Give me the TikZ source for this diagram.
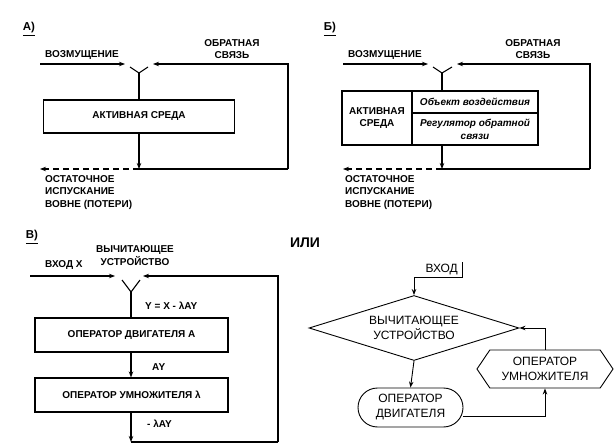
\documentclass[tikz,border=0pt]{standalone}
\usepackage{fontspec}
\setmainfont{Liberation Sans}
\usetikzlibrary{positioning,arrows.meta,shapes.geometric,shapes.misc,shapes.symbols}

\tikzset{
	blk/.style={draw,line width=1.1pt,inner sep=0pt,font=\fontsize{10}{12}\selectfont\bfseries},
	lbl/.style={inner sep=0pt,font=\fontsize{10}{12.5}\selectfont\bfseries},
	ttl/.style={inner sep=0pt,font=\fontsize{11.5}{13}\selectfont\bfseries},
	ln/.style={line width=1.1pt},
	arr/.style={line width=1.1pt,-{Stealth[length=6pt,width=4.5pt]}},
	dsh/.style={dash pattern=on 6pt off 4pt},
	fl/.style={draw,line width=0.9pt,inner sep=0pt,align=center,font=\fontsize{12}{15}\selectfont},
	farr/.style={line width=0.9pt,-{Stealth[length=6pt,width=4.5pt]}}
}

\begin{document}
\begin{tikzpicture}[x=1pt,y=-1pt]
		\useasboundingbox (0,0) rectangle (614,444);

		\node[ttl]							(ta)	at (29,29)		{\underline{А)}};
		\node[blk,minimum width=191pt,minimum height=33pt]	(sa)	at (139,116.5)	{АКТИВНАЯ СРЕДА};
		\node[lbl,anchor=west]					(va)	at (45,55)		{ВОЗМУЩЕНИЕ};
		\node[lbl,align=center]					(oba)	at (232,49)		{ОБРАТНАЯ\\СВЯЗЬ};
		\node[lbl,align=left,anchor=north west]	(pa)	at (45,175)		{ОСТАТОЧНОЕ\\ИСПУСКАНИЕ\\ВОВНЕ (ПОТЕРИ)};
		\coordinate (ja)	at (139,73);
		\coordinate (jal)	at (130,67);
		\coordinate (jar)	at (148,67);
		\coordinate (ia)	at (40,64);
		\coordinate (iae)	at (125,64);
		\coordinate (fa)	at (288,169);
		\coordinate (fae)	at (153,64);
		\coordinate (oa)	at (139,169);
		\coordinate (la)	at (40,169);

		\draw[ln]			(jal) -- (ja) -- (jar);
		\draw[ln]			(ja) -- (sa.north);
		\draw[arr]			(ia) -- (iae);
		\draw[arr]			(fa) |- (fae);
		\draw[ln]			(fa) -- (oa);
		\draw[arr]			(sa.south) -- (oa);
		\draw[arr,dsh]		(oa) -- (la);

		\node[ttl]							(tb)	at (330,29)		{\underline{Б)}};
		\node[blk,minimum width=70pt,minimum height=54pt,align=center]	(sbl)	at (377,118)	{АКТИВНАЯ\\СРЕДА};
		\node[blk,minimum width=126pt,minimum height=22pt,font=\fontsize{10}{13}\selectfont\bfseries\itshape]	(sbt)	at (475,102)	{Объект воздействия};
		\node[blk,minimum width=126pt,minimum height=32pt,align=center,font=\fontsize{10}{13}\selectfont\bfseries\itshape]	(sbb)	at (475,129)	{Регулятор обратной\\связи};
		\node[lbl,anchor=west]					(vb)	at (348,55)		{ВОЗМУЩЕНИЕ};
		\node[lbl,align=center]					(obb)	at (533,49)		{ОБРАТНАЯ\\СВЯЗЬ};
		\node[lbl,align=left,anchor=north west]	(pb)	at (345,175)	{ОСТАТОЧНОЕ\\ИСПУСКАНИЕ\\ВОВНЕ (ПОТЕРИ)};
		\coordinate (jb)	at (442,73);
		\coordinate (jbl)	at (433,67);
		\coordinate (jbr)	at (452,67);
		\coordinate (jbt)	at (442,91);
		\coordinate (ib)	at (343,64);
		\coordinate (ibe)	at (428,64);
		\coordinate (fb)	at (590,169);
		\coordinate (fbe)	at (457,64);
		\coordinate (sbs)	at (442,145);
		\coordinate (ob)	at (442,169);
		\coordinate (lb)	at (343,169);

		\draw[ln]			(jbl) -- (jb) -- (jbr);
		\draw[ln]			(jb) -- (jbt);
		\draw[arr]			(ib) -- (ibe);
		\draw[arr]			(fb) |- (fbe);
		\draw[ln]			(fb) -- (ob);
		\draw[arr]			(sbs) -- (ob);
		\draw[arr,dsh]		(ob) -- (lb);

		\node[ttl]							(tc)	at (32,237)		{\underline{В)}};
		\node[blk,minimum width=193pt,minimum height=34pt]	(da)	at (131.5,335)	{ОПЕРАТОР ДВИГАТЕЛЯ А};
		\node[blk,minimum width=193pt,minimum height=34pt]	(ml)	at (131.5,395)	{ОПЕРАТОР УМНОЖИТЕЛЯ λ};
		\node[lbl,align=center]					(vu)	at (135,255.5)	{ВЫЧИТАЮЩЕЕ\\УСТРОЙСТВО};
		\node[lbl,anchor=west]					(vx)	at (45,265)		{ВХОД Х};
		\node[lbl,anchor=west]					(ey)	at (145,306)	{Y = X - λAY};
		\node[lbl,anchor=west]					(ay)	at (152,367)	{AY};
		\node[lbl,anchor=west]					(ly)	at (147,424)	{- λAY};
		\coordinate (jc)	at (131,292);
		\coordinate (jcl)	at (122,280);
		\coordinate (jcr)	at (140,280);
		\coordinate (ic)	at (30,276);
		\coordinate (ice)	at (115,276);
		\coordinate (fc)	at (278,442);
		\coordinate (fce)	at (143,276);
		\coordinate (oc)	at (131,442);

		\draw[ln]			(jcl) -- (jc) -- (jcr);
		\draw[ln]			(jc) -- (jc |- da.north);
		\draw[arr]			(ic) -- (ice);
		\draw[arr]			(fc) |- (fce);
		\draw[ln]			(fc) -- (oc);
		\draw[arr]			(jc |- da.south) -- (jc |- ml.north);
		\draw[arr]			(jc |- ml.south) -- (oc);

		\node[inner sep=0pt,font=\fontsize{14}{16}\selectfont\bfseries]	(ili)	at (305,243)	{ИЛИ};
		\node[fl,diamond,aspect=3.2,minimum width=210pt,minimum height=65pt]	(dv)	at (414,328)	{ВЫЧИТАЮЩЕЕ\\УСТРОЙСТВО};
		\node[fl,rounded rectangle,minimum width=105pt,minimum height=39pt]	(te)	at (410.5,407.5)	{ОПЕРАТОР\\ДВИГАТЕЛЯ};
		\node[fl,signal,signal to=east and west,signal pointer angle=112,minimum width=136pt,minimum height=38pt]	(hx)	at (545,369)	{ОПЕРАТОР\\УМНОЖИТЕЛЯ};
		\node[inner sep=0pt,anchor=east,font=\fontsize{12}{14}\selectfont]	(vd)	at (458,270)	{ВХОД};
		\coordinate (id)	at (462,262);

		\draw[farr]			(id) -- ++(0,15) -| (dv.north);
		\draw[farr]			(dv.south) -- (te.north);
		\draw[farr]			([yshift=-9pt]te.east) -| (hx.south);
		\draw[farr]			(hx.north) |- (dv.east);
	\end{tikzpicture}
\end{document}
